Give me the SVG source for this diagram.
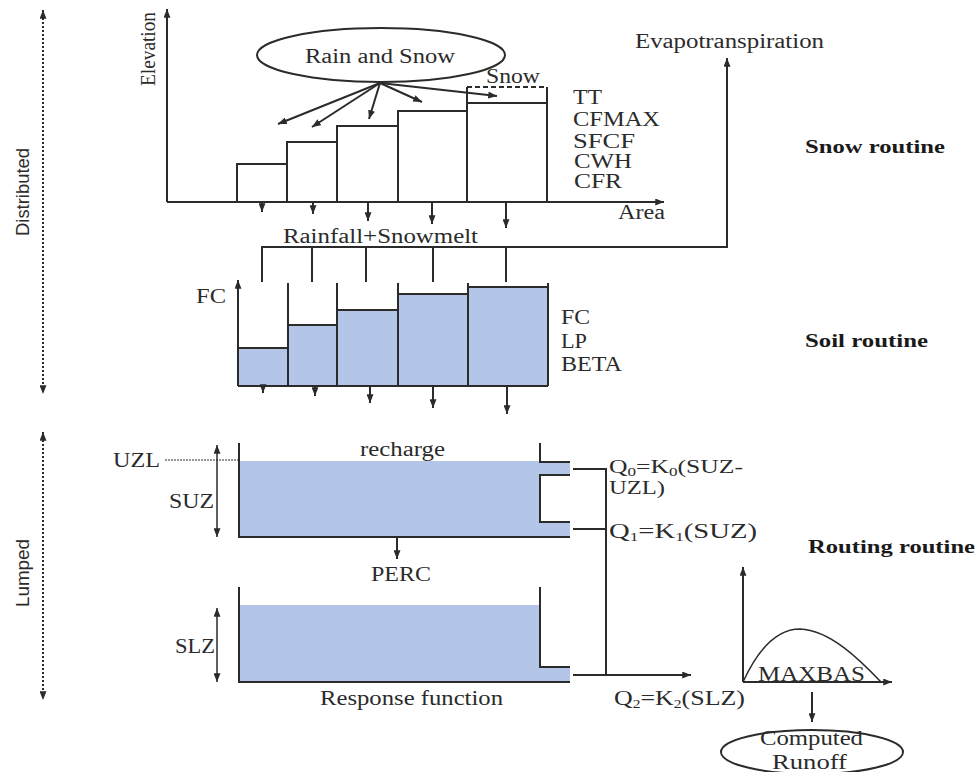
<svg xmlns="http://www.w3.org/2000/svg" width="979" height="772" viewBox="0 0 979 772">
  <style>
    .ln { stroke: #2b2b2b; stroke-width: 2; fill: none; }
    .thin { stroke: #2b2b2b; stroke-width: 1.5; fill: none; }
    .water { fill: #b4c6e7; stroke: none; }
    .t { font-family: "Liberation Serif", "Times New Roman", serif; font-size: 20px; fill: #2b2b2b; }
    .q { font-size: 18px; }
    .b { font-family: "Liberation Serif", "Times New Roman", serif; font-size: 19px; font-weight: bold; fill: #1a1a1a; }
    .n { font-family: "Liberation Sans", Arial, sans-serif; font-size: 18px; fill: #2b2b2b; }
    .dot { stroke: #2b2b2b; stroke-width: 2; stroke-dasharray: 2 2; fill: none; }
    .sub { font-size: 12px; }
  </style>
  <defs>
    <marker id="ah" viewBox="0 0 10 8" refX="10" refY="4" markerWidth="9" markerHeight="7" markerUnits="userSpaceOnUse" orient="auto-start-reverse">
      <path d="M0,0 L10,4 L0,8 z" fill="#2b2b2b"/>
    </marker>
  </defs>
  <rect width="979" height="772" fill="#ffffff"/>

  <!-- scale bands on the left -->
  <g id="band-distributed">
    <line class="dot" x1="43" y1="10" x2="43" y2="394" marker-start="url(#ah)" marker-end="url(#ah)"/>
    <text class="n" transform="translate(29,236) rotate(-90)" textLength="88" lengthAdjust="spacingAndGlyphs">Distributed</text>
  </g>
  <g id="band-lumped">
    <line class="dot" x1="43" y1="432" x2="43" y2="700" marker-start="url(#ah)" marker-end="url(#ah)"/>
    <text class="n" transform="translate(29,607) rotate(-90)" textLength="68" lengthAdjust="spacingAndGlyphs">Lumped</text>
  </g>

  <!-- snow routine -->
  <g id="snow-routine">
    <text class="t" transform="translate(155,86) rotate(-90)" textLength="74" lengthAdjust="spacingAndGlyphs">Elevation</text>
    <rect x="237" y="164" width="50" height="38" class="ln"/>
    <rect x="287" y="142" width="50" height="60" class="ln"/>
    <rect x="337" y="126" width="61" height="76" class="ln"/>
    <rect x="398" y="111" width="69" height="91" class="ln"/>
    <path class="ln" d="M467,202 V87 M547,202 V87 M467,103 H547"/>
    <line x1="467" y1="87" x2="547" y2="87" stroke="#2b2b2b" stroke-width="2" stroke-dasharray="5 3"/>
    <text class="t" x="486" y="83" textLength="54" lengthAdjust="spacingAndGlyphs">Snow</text>
    <text class="t" x="573" y="104" textLength="29" lengthAdjust="spacingAndGlyphs">TT</text>
    <text class="t" x="573" y="126" textLength="87" lengthAdjust="spacingAndGlyphs">CFMAX</text>
    <text class="t" x="573" y="148" textLength="62" lengthAdjust="spacingAndGlyphs">SFCF</text>
    <text class="t" x="574" y="168" textLength="58" lengthAdjust="spacingAndGlyphs">CWH</text>
    <text class="t" x="574" y="188" textLength="48" lengthAdjust="spacingAndGlyphs">CFR</text>
    <text class="t" x="618" y="219" textLength="47" lengthAdjust="spacingAndGlyphs">Area</text>
    <text class="b" x="805" y="153" textLength="140" lengthAdjust="spacingAndGlyphs">Snow routine</text>
  </g>

  <g id="rain-and-snow">
    <ellipse cx="381" cy="55" rx="124" ry="27" class="ln"/>
    <text class="t" x="305" y="63" textLength="150" lengthAdjust="spacingAndGlyphs">Rain and Snow</text>
  </g>

  <g id="evapotranspiration">
    <text class="t" x="635" y="48" textLength="189" lengthAdjust="spacingAndGlyphs">Evapotranspiration</text>
  </g>

  <!-- soil routine -->
  <g id="soil-routine">
    <rect class="water" x="238" y="348" width="50" height="38"/>
    <rect class="water" x="288" y="325" width="49" height="61"/>
    <rect class="water" x="337" y="310" width="61" height="76"/>
    <rect class="water" x="398" y="294" width="70" height="92"/>
    <rect class="water" x="468" y="287" width="80" height="99"/>
    <path class="ln" d="M238,348 H288 M288,325 H337 M337,310 H398 M398,294 H468 M468,287 H548"/>
    <path class="ln" d="M288,283 V386 M337,283 V386 M398,283 V386 M468,283 V386 M548,283 V386 M238,386 H548"/>
    <line class="ln" x1="238" y1="386" x2="238" y2="280" marker-end="url(#ah)"/>
    <text class="t" x="196" y="303" textLength="30" lengthAdjust="spacingAndGlyphs">FC</text>
    <text class="t" x="561" y="324" textLength="29" lengthAdjust="spacingAndGlyphs">FC</text>
    <text class="t" x="561" y="348" textLength="26" lengthAdjust="spacingAndGlyphs">LP</text>
    <text class="t" x="561" y="371" textLength="61" lengthAdjust="spacingAndGlyphs">BETA</text>
    <text class="t" x="283" y="243" textLength="195" lengthAdjust="spacingAndGlyphs">Rainfall+Snowmelt</text>
    <text class="b" x="805" y="347" textLength="123" lengthAdjust="spacingAndGlyphs">Soil routine</text>
  </g>

  <!-- upper zone reservoir -->
  <g id="upper-zone">
    <path class="water" d="M239,461 H540 V462 H570 V475 H540 V522 H570 V537 H239 Z"/>
    <path class="ln" d="M239,443 V537 H570 M540,443 V462 H570 M570,475 H540 V522 H570"/>
    <line x1="165" y1="460" x2="239" y2="460" stroke="#2b2b2b" stroke-width="1" stroke-dasharray="2 1"/>
    <line class="thin" x1="217" y1="445" x2="217" y2="537" marker-start="url(#ah)" marker-end="url(#ah)"/>
    <text class="t" x="113" y="467" textLength="47" lengthAdjust="spacingAndGlyphs">UZL</text>
    <text class="t" x="169" y="508" textLength="45" lengthAdjust="spacingAndGlyphs">SUZ</text>
    <text class="t" x="360" y="456" textLength="85" lengthAdjust="spacingAndGlyphs">recharge</text>
    <text class="t" x="371" y="581" textLength="60" lengthAdjust="spacingAndGlyphs">PERC</text>
  </g>

  <!-- lower zone reservoir -->
  <g id="lower-zone">
    <path class="water" d="M239,605 H540 V667 H570 V682 H239 Z"/>
    <path class="ln" d="M239,587 V682 H570 M540,587 V667 H570"/>
    <line class="thin" x1="217" y1="608" x2="217" y2="682" marker-start="url(#ah)" marker-end="url(#ah)"/>
    <text class="t" x="175" y="653" textLength="40" lengthAdjust="spacingAndGlyphs">SLZ</text>
    <text class="t" x="320" y="705" textLength="183" lengthAdjust="spacingAndGlyphs">Response function</text>
  </g>

  <g id="outflow-labels">
    <text class="t q" x="609" y="473" textLength="134" lengthAdjust="spacingAndGlyphs">Q<tspan class="sub" dy="3">0</tspan><tspan dy="-3">=K</tspan><tspan class="sub" dy="3">0</tspan><tspan dy="-3">(SUZ-</tspan></text>
    <text class="t q" x="609" y="494" textLength="56" lengthAdjust="spacingAndGlyphs">UZL)</text>
    <text class="t" x="609" y="538" textLength="148" lengthAdjust="spacingAndGlyphs">Q<tspan class="sub" dy="3">1</tspan><tspan dy="-3">=K</tspan><tspan class="sub" dy="3">1</tspan><tspan dy="-3">(SUZ)</tspan></text>
    <text class="t" x="614" y="705" textLength="131" lengthAdjust="spacingAndGlyphs">Q<tspan class="sub" dy="3">2</tspan><tspan dy="-3">=K</tspan><tspan class="sub" dy="3">2</tspan><tspan dy="-3">(SLZ)</tspan></text>
    <text class="b" x="808" y="553" textLength="167" lengthAdjust="spacingAndGlyphs">Routing routine</text>
  </g>

  <!-- response function (MAXBAS) -->
  <g id="response-function">
    <line class="ln" x1="743" y1="682" x2="743" y2="567" marker-end="url(#ah)"/>
    <line class="ln" x1="743" y1="682" x2="892" y2="682" marker-end="url(#ah)"/>
    <path class="thin" d="M743,682 C760,645 780,629 800,629 C830,630 860,660 881,682"/>
    <text class="t" x="758" y="681" textLength="107" lengthAdjust="spacingAndGlyphs">MAXBAS</text>
  </g>

  <g id="computed-runoff">
    <ellipse cx="812" cy="752" rx="91" ry="22" class="ln"/>
    <text class="t" x="760" y="745" textLength="103" lengthAdjust="spacingAndGlyphs">Computed</text>
    <text class="t" x="772" y="769" textLength="75" lengthAdjust="spacingAndGlyphs">Runoff</text>
  </g>

  <!-- connectors -->
  <g id="connectors">
    <!-- elevation / area axes -->
    <line class="ln" x1="167" y1="202" x2="167" y2="9" marker-end="url(#ah)"/>
    <line class="ln" x1="167" y1="202" x2="664" y2="202" marker-end="url(#ah)"/>
    <!-- precipitation onto the elevation bands -->
    <line class="ln" x1="380" y1="83" x2="278" y2="124" marker-end="url(#ah)"/>
    <line class="ln" x1="380" y1="83" x2="312" y2="127" marker-end="url(#ah)"/>
    <line class="ln" x1="380" y1="83" x2="369" y2="119" marker-end="url(#ah)"/>
    <line class="ln" x1="380" y1="83" x2="422" y2="102" marker-end="url(#ah)"/>
    <line class="ln" x1="380" y1="83" x2="497" y2="96" marker-end="url(#ah)"/>
    <!-- melt leaving the snow bands -->
    <line class="ln" x1="262" y1="202" x2="262" y2="212" marker-end="url(#ah)"/>
    <line class="ln" x1="313" y1="202" x2="313" y2="214" marker-end="url(#ah)"/>
    <line class="ln" x1="368" y1="202" x2="368" y2="221" marker-end="url(#ah)"/>
    <line class="ln" x1="432" y1="202" x2="432" y2="224" marker-end="url(#ah)"/>
    <line class="ln" x1="506" y1="202" x2="506" y2="228" marker-end="url(#ah)"/>
    <!-- rainfall + snowmelt distribution and evapotranspiration -->
    <path class="ln" d="M262,282 V247 H727 M312,247 V282 M366,247 V282 M433,247 V282 M506,247 V282"/>
    <line class="ln" x1="727" y1="248" x2="727" y2="58" marker-end="url(#ah)"/>
    <!-- drainage from soil bands -->
    <line class="ln" x1="263" y1="386" x2="263" y2="393" marker-end="url(#ah)"/>
    <line class="ln" x1="315" y1="386" x2="315" y2="396" marker-end="url(#ah)"/>
    <line class="ln" x1="370" y1="386" x2="370" y2="403" marker-end="url(#ah)"/>
    <line class="ln" x1="433" y1="386" x2="433" y2="408" marker-end="url(#ah)"/>
    <line class="ln" x1="507" y1="386" x2="507" y2="414" marker-end="url(#ah)"/>
    <!-- percolation -->
    <line class="ln" x1="397" y1="537" x2="397" y2="559" marker-end="url(#ah)"/>
    <!-- outflows Q0, Q1, Q2 -->
    <path class="ln" d="M573,469 H606 V675 M573,529 H606"/>
    <line class="ln" x1="573" y1="675" x2="691" y2="675" marker-end="url(#ah)"/>
    <!-- routed runoff -->
    <line class="ln" x1="812" y1="692" x2="812" y2="722" marker-end="url(#ah)"/>
  </g>
</svg>
